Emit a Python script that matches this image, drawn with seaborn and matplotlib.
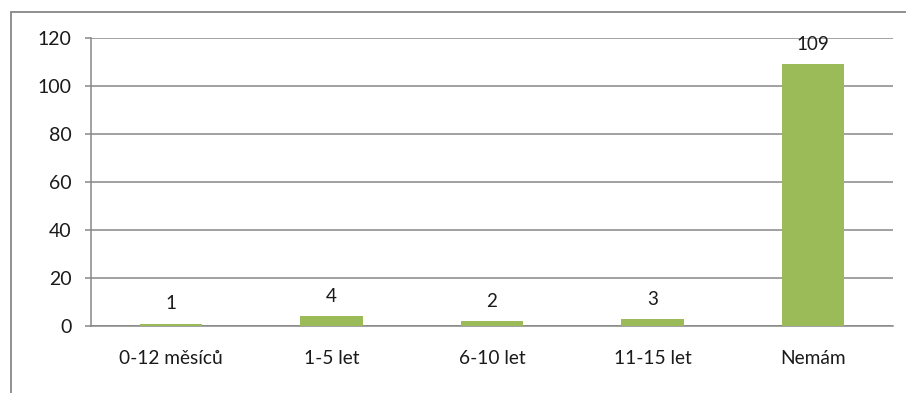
import matplotlib
matplotlib.use("Agg")
import matplotlib.pyplot as plt
from matplotlib.patches import Rectangle
import seaborn as sns
import numpy as np

# Data
categories = ["0-12 měsíců", "1-5 let", "6-10 let", "11-15 let", "Nemám"]
values = [1, 4, 2, 3, 109]
y_ticks = [0, 20, 40, 60, 80, 100, 120]

BAR_COLOR = "#9BBB59"
GRID_COLOR = "#878787"
TEXT_COLOR = "#1a1a1a"

sns.set_theme(style="white")
plt.rcParams["font.family"] = ["Lato", "DejaVu Sans"]

W, H = 906, 393
fig = plt.figure(figsize=(W / 100, H / 100), dpi=100)
fig.patch.set_facecolor("white")

# outer chart frame
fig.add_artist(Rectangle((11 / W, -0.1), 1.2, (H - 12) / H + 0.1,
                         transform=fig.transFigure, fill=False,
                         edgecolor=GRID_COLOR, linewidth=1.3))

left, right, top, bottom = 91, 893, 38, 326
ax = fig.add_axes([left / W, (H - bottom) / H, (right - left) / W, (bottom - top) / H])

sns.barplot(x=categories, y=values, color=BAR_COLOR, width=0.39,
            saturation=1, linewidth=0, ax=ax, zorder=3)

ax.set_ylim(0, 120)
ax.set_xlim(-0.5, len(categories) - 0.5)
ax.set_yticks(y_ticks)
ax.yaxis.grid(True, color=GRID_COLOR, linewidth=1.1)
ax.set_axisbelow(True)
ax.set_xlabel("")
ax.set_ylabel("")

for s in ["top", "right"]:
    ax.spines[s].set_visible(False)
for s in ["left", "bottom"]:
    ax.spines[s].set_color(GRID_COLOR)
    ax.spines[s].set_linewidth(1.1)

# category boundaries as tick marks below the axis
ax.set_xticks(np.arange(-0.5, len(categories), 1.0), minor=True)
ax.tick_params(axis="x", which="minor", length=5.5, width=1.1, color=GRID_COLOR, direction="out")
ax.tick_params(axis="x", which="major", length=0, pad=17, labelsize=13.8, labelcolor=TEXT_COLOR)
ax.tick_params(axis="y", which="major", length=4, width=1.1, color=GRID_COLOR, direction="out",
               pad=10, labelsize=14, labelcolor=TEXT_COLOR)
ax.tick_params(left=True)

# value labels above bars
for i, v in enumerate(values):
    ax.annotate(str(v), (i, v), xytext=(0, 8), textcoords="offset points",
                ha="center", va="bottom", fontsize=13.5, color=TEXT_COLOR,
                annotation_clip=False)

fig.savefig("out.png", dpi=100, facecolor="white")
